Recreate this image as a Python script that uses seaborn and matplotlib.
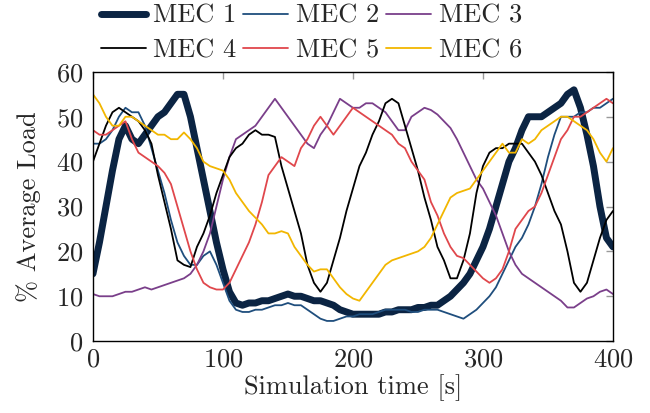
import numpy as np
import pandas as pd
import matplotlib
matplotlib.use("Agg")
import matplotlib.pyplot as plt
import seaborn as sns

time_s = list(range(0, 401, 5))

mec1 = [15, 22, 30, 38, 45, 48, 45, 44, 46, 48, 50, 51, 53, 55, 55, 50, 43, 36, 29, 22,
        16, 11, 8.5, 8, 8.5, 8.5, 9, 9, 9.5, 10, 10.5, 10, 10, 9.5, 9, 9, 8.5, 8, 7, 6.5,
        6, 6, 6, 6, 6, 6.5, 6.5, 7, 7, 7, 7.5, 7.5, 8, 8, 9, 10, 11.5, 13, 15, 18,
        21, 25, 30, 35, 40, 43, 47, 50, 50, 50, 51, 52, 53, 55, 56, 52, 46, 39, 30, 23, 21]
mec2 = [44, 44, 45, 47, 50, 52, 51, 51, 48, 43, 38, 33, 27, 22, 19, 17, 17, 19, 20, 17,
        13, 9, 7, 6.5, 6.5, 7, 7, 7.5, 8, 8, 8.5, 8, 8, 7, 6, 5, 4.5, 4.5, 5, 5.5,
        5.5, 6, 6, 6, 6.5, 7, 7, 7, 7, 6.5, 6.5, 7, 7, 7, 6.5, 6, 5.5, 5, 6, 7,
        8.5, 10, 12, 15, 18, 21, 23, 26, 30, 35, 41, 46, 50, 50, 50, 51, 51, 52, 52, 53, 54]
mec3 = [10.5, 10, 10, 10, 10.5, 11, 11, 11.5, 12, 11.5, 12, 12.5, 13, 13.5, 14, 15, 17, 20, 24, 30,
        36, 41, 45, 46, 47, 48, 50, 52, 54, 52, 50, 48, 46, 44, 43, 46, 48, 51, 54, 53,
        52, 52, 53, 53, 52, 51, 49, 47, 47, 50, 51, 52, 51.5, 50.5, 49, 47.5, 45, 42, 39, 36,
        34, 31, 28, 24, 20, 17, 15, 14, 13, 12, 11, 10, 9, 7.5, 7.5, 8.5, 9.5, 10, 11, 11.5, 10.5]
mec4 = [40, 44, 48, 51, 52, 51, 50, 49, 47, 44, 37, 31, 25, 18, 17, 16.5, 21, 24, 28, 33,
        37, 41, 43, 44, 46, 47, 46, 46, 45.5, 39, 34, 29, 24, 17, 13, 11, 13, 18, 23, 29,
        34, 39, 42, 46, 49, 53, 54, 53, 48, 43, 38, 32, 27, 21, 18, 14, 14, 18, 24, 33,
        39, 42, 43, 43, 44, 44, 44, 42, 40, 37, 33, 29, 26, 20, 13, 11, 13, 18, 23, 27, 29]
mec5 = [47, 46, 46, 47, 48, 49, 45, 42, 41, 40, 39, 37.5, 35, 30, 25, 20, 16, 13, 12, 11.5,
        11.5, 13, 16, 19, 22, 26, 31, 37, 39, 41, 40, 39, 43, 45, 48, 50, 48, 46, 48, 50,
        52, 51, 50, 49, 48, 47, 46, 44, 43, 40, 38, 36, 31, 28, 24, 21, 19, 18.5, 17, 15.5,
        14, 13, 14, 16, 20, 25, 27, 29, 30, 33, 37, 41, 45, 47, 50, 50, 51, 52, 53, 54, 53]
mec6 = [55, 53, 50, 48, 48, 50, 50, 49, 48, 47, 46, 46, 45, 45, 46.5, 45, 43, 40, 39, 38.5,
        38, 36, 33, 31, 29, 27.5, 26, 24, 24, 24.5, 24, 21, 19, 17, 15.5, 16, 16, 14, 12, 10.5,
        9.5, 9, 11, 13, 15, 17, 18, 18.5, 19, 19.5, 20, 21, 23, 26, 29, 32, 33, 33.5, 34, 36,
        38, 40, 42, 44, 42, 42, 45, 44, 45, 47, 48, 49, 50, 50, 49, 48, 47, 45, 42, 40, 43]

labels = ["MEC 1", "MEC 2", "MEC 3", "MEC 4", "MEC 5", "MEC 6"]
series = [mec1, mec2, mec3, mec4, mec5, mec6]
colors = ["#0b2443", "#1f4e7d", "#7a3f8a", "#000000", "#e0474c", "#f2b600"]
widths = [5.0, 1.3, 1.3, 1.3, 1.3, 1.3]

sns.set_style("white")
plt.rcParams["font.family"] = "serif"
plt.rcParams["font.serif"] = ["cmr10", "DejaVu Serif"]
plt.rcParams["mathtext.fontset"] = "cm"
plt.rcParams["axes.formatter.use_mathtext"] = True

FS = 19

fig = plt.figure(figsize=(6.5, 4.13), dpi=100)
ax = fig.add_axes([0.143, 0.174, 0.8, 0.652])

df = pd.DataFrame({"t": time_s})
for lab, vals in zip(labels, series):
    df[lab] = vals

for lab, col, lw in zip(labels, colors, widths):
    sns.lineplot(data=df, x="t", y=lab, ax=ax, color=col, linewidth=lw, label=lab)

ax.set_xlim(0, 400)
ax.set_ylim(0, 60)
ax.set_xticks([0, 100, 200, 300, 400])
ax.set_yticks([0, 10, 20, 30, 40, 50, 60])
ax.tick_params(direction="in", length=5, width=1, color="#999999", labelsize=FS,
               top=True, right=True)
ax.tick_params(axis="x", pad=5)
ax.tick_params(axis="y", pad=7)
for sp in ax.spines.values():
    sp.set_color("black")
    sp.set_linewidth(1.0)
ax.set_xlabel("Simulation time [s]", fontsize=FS, labelpad=2)
ax.set_ylabel(r"% Average Load", fontsize=FS, labelpad=11)

h, l = ax.get_legend_handles_labels()
ax.get_legend().remove()
order = [0, 3, 1, 4, 2, 5]
fig.legend([h[i] for i in order], [l[i] for i in order], ncol=3, frameon=False,
           loc="upper center", bbox_to_anchor=(0.479, 0.99), fontsize=FS,
           handlelength=1.7, handletextpad=0.3, columnspacing=0.25, labelspacing=0.4,
           borderaxespad=0.0, borderpad=0.0)

fig.savefig("out.png", dpi=100)
